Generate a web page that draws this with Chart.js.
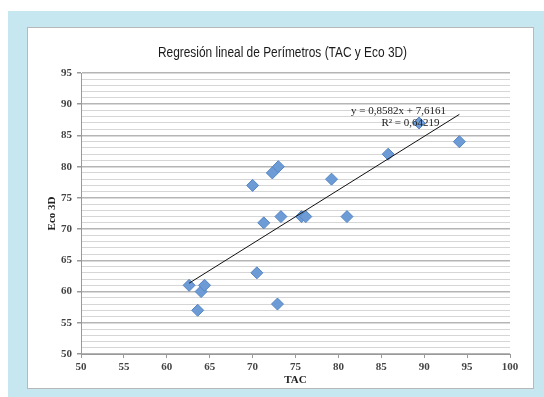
<!DOCTYPE html>
<html>
<head>
<meta charset="utf-8">
<script src="https://cdn.jsdelivr.net/npm/chart.js@4/dist/chart.umd.min.js"></script>
<style>
  html, body { margin: 0; padding: 0; background: #fff; }
  body { width: 544px; height: 397px; position: relative; overflow: hidden; }
  #bg { position: absolute; left: 8px; top: 11px; width: 536px; height: 386px; background: #c6e7f0; }
  #box { position: absolute; left: 27px; top: 27px; width: 505px; height: 360px; background: #fff; border: 1px solid #b8b8b8; }
  #box canvas { position: absolute; left: 0; top: 0; }
</style>
</head>
<body>
<div id="bg"></div>
<div id="box"><canvas id="myChart" width="505" height="360"></canvas></div>
<script>
const tac = [62.6, 64.0, 64.4, 63.6, 70.0, 70.5, 71.3, 72.3, 73.0, 72.9, 73.3, 75.7, 76.2, 79.2, 81.0, 85.8, 89.4, 94.1];
const eco = [61, 60, 61, 57, 77, 63, 71, 79, 80, 58, 72, 72, 72, 78, 72, 82, 87, 84];
const slope = 0.8582;
const intercept = 7.6161;
const r2 = '0,64219';
const chartTitle = 'Regresión lineal de Perímetros (TAC y Eco 3D)';

const points = tac.map((x, i) => ({ x: x, y: eco[i] }));
const xMin = Math.min(...tac);
const xMax = Math.max(...tac);
const trend = [
  { x: xMin, y: slope * xMin + intercept },
  { x: xMax, y: slope * xMax + intercept }
];

const serif = "'Liberation Serif', 'DejaVu Serif', serif";

// narrow title (no condensed font available) + equation text
const extras = {
  id: 'extras',
  afterDraw(chart) {
    const ctx = chart.ctx;
    const xs = chart.scales.x, ys = chart.scales.y;
    ctx.save();
    ctx.fillStyle = '#1a1a1a';
    ctx.font = "14px 'Liberation Sans', Arial, sans-serif";
    ctx.textAlign = 'center';
    ctx.textBaseline = 'middle';
    ctx.translate(chart.width / 2 + 2, 25);
    ctx.scale(0.85, 1);
    ctx.fillText(chartTitle, 0, 0);
    ctx.restore();

    ctx.save();
    ctx.fillStyle = '#222';
    ctx.font = '11px ' + serif;
    ctx.textAlign = 'center';
    ctx.textBaseline = 'middle';
    ctx.fillText('y = 0,8582x + 7,6161', xs.getPixelForValue(87.0), ys.getPixelForValue(88.9));
    ctx.fillText('R² = ' + r2, xs.getPixelForValue(88.4), ys.getPixelForValue(87.0));
    ctx.restore();
  }
};

const config = {
  type: 'scatter',
  data: {
    datasets: [{
      label: 'Eco 3D',
      data: points,
      pointStyle: 'rectRot',
      pointRadius: 6,
      pointHoverRadius: 6,
      backgroundColor: '#6c9bd6',
      borderColor: '#5585c4',
      borderWidth: 1,
      order: 2
    }, {
      type: 'line',
      label: 'trend',
      data: trend,
      borderColor: '#111',
      borderWidth: 1,
      pointRadius: 0,
      fill: false,
      order: 1
    }]
  },
  options: {
    responsive: false,
    animation: false,
    layout: { padding: { left: 18, right: 23, top: 45, bottom: 0 } },
    plugins: {
      legend: { display: false },
      tooltip: { enabled: false },
      title: { display: false }
    },
    scales: {
      x: {
        type: 'linear',
        min: 50,
        max: 100,
        ticks: { stepSize: 5, color: '#444', font: { family: serif, size: 11, weight: 'bold' }, padding: 3 },
        grid: { drawOnChartArea: false, drawTicks: true, tickLength: 4, color: '#999' },
        border: { color: '#999' },
        title: { display: true, text: 'TAC', color: '#222', font: { family: serif, size: 11, weight: 'bold' }, padding: { top: 2, bottom: 1 } },
        afterFit(scale) { scale.height = 34; }
      },
      y: {
        min: 50,
        max: 95,
        ticks: {
          stepSize: 1,
          autoSkip: false,
          color: '#444',
          font: { family: serif, size: 11, weight: 'bold' },
          padding: 5,
          callback: v => (v % 5 === 0 ? v : '')
        },
        grid: {
          tickLength: 4,
          color: ctx => (ctx.tick && ctx.tick.value % 5 === 0 ? '#b5b5b5' : '#d6d6d6'),
          tickColor: ctx => (ctx.tick && ctx.tick.value % 5 === 0 ? '#999' : 'rgba(0,0,0,0)'),
          lineWidth: ctx => (ctx.tick && ctx.tick.value % 5 === 0 ? 1.5 : 1)
        },
        border: { color: '#999' },
        title: { display: true, text: 'Eco 3D', color: '#222', font: { family: serif, size: 11, weight: 'bold' }, padding: { top: 0, bottom: 0 } },
        afterFit(scale) { scale.width = 35; }
      }
    }
  },
  plugins: [extras]
};

const myChart = new Chart(document.getElementById('myChart'), config);
</script>
</body>
</html>
